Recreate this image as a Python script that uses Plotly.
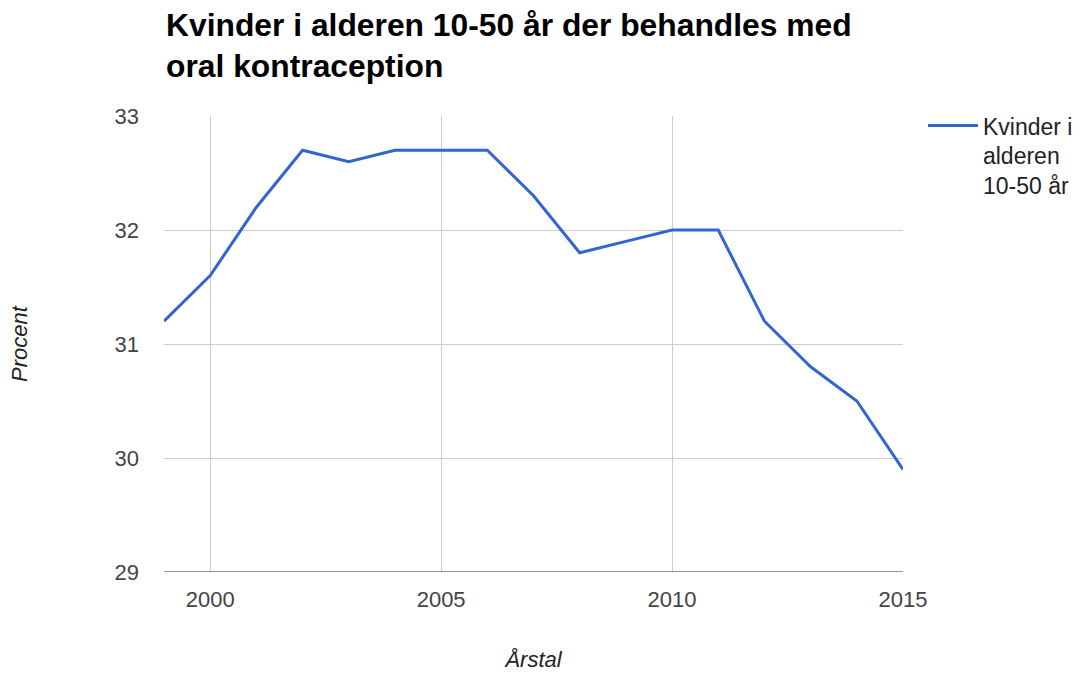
import plotly.graph_objects as go

# Andel kvinder (10-50 år) i behandling med oral kontraception, pr. år
years = [1999, 2000, 2001, 2002, 2003, 2004, 2005, 2006, 2007,
         2008, 2009, 2010, 2011, 2012, 2013, 2014, 2015]
percent = [31.2, 31.6, 32.2, 32.7, 32.6, 32.7, 32.7, 32.7, 32.3,
           31.8, 31.9, 32.0, 32.0, 31.2, 30.8, 30.5, 29.9]

series_name = "Kvinder i<br>alderen<br>10-50 år"
x_ticks = [2000, 2005, 2010, 2015]
y_ticks = [29, 30, 31, 32, 33]

FONT = "Arial, Liberation Sans, sans-serif"

fig = go.Figure()
fig.add_trace(go.Scatter(
    x=years, y=percent, mode="lines", name=series_name,
    line=dict(color="#3366cc", width=3),
))

fig.update_layout(
    width=1090, height=674,
    margin=dict(l=164, r=187, t=116, b=102, autoexpand=False),
    paper_bgcolor="white", plot_bgcolor="white",
    font=dict(family=FONT, color="#444444", size=22),
    showlegend=True,
    legend=dict(
        x=1.027, xanchor="left", y=1.026, yanchor="top",
        font=dict(size=23, color="#222222"),
        valign="top", itemwidth=50,
    ),
    xaxis=dict(
        range=[1999, 2015], tickvals=x_ticks, automargin=False,
        showgrid=True, gridcolor="#cccccc", gridwidth=1,
        zeroline=False, showline=False, ticks="",
        ticklabelstandoff=12,
        title=dict(text="<i>Årstal</i>", standoff=40, font=dict(size=22, color="#222222")),
    ),
    yaxis=dict(
        range=[29, 33], tickvals=y_ticks, automargin=False,
        showgrid=True, gridcolor="#cccccc", gridwidth=1,
        zeroline=False, showline=False, ticks="",
        ticklabelstandoff=24,
        title=dict(text="<i>Procent</i>", standoff=80, font=dict(size=22, color="#222222")),
    ),
)

# chart title, two lines, left-aligned with the plot area
fig.add_annotation(
    text="<b>Kvinder i alderen 10-50 år der behandles med<br>oral kontraception</b>",
    xref="paper", yref="paper", x=0, y=1.243, xanchor="left", yanchor="top",
    align="left", showarrow=False,
    font=dict(family=FONT, size=31.8, color="#000000"),
)

# dark baseline along the bottom of the plot area
fig.add_shape(type="line", xref="paper", yref="y", x0=0, x1=1, y0=29, y1=29,
              line=dict(color="#333333", width=1))

fig.write_html("out.html")
